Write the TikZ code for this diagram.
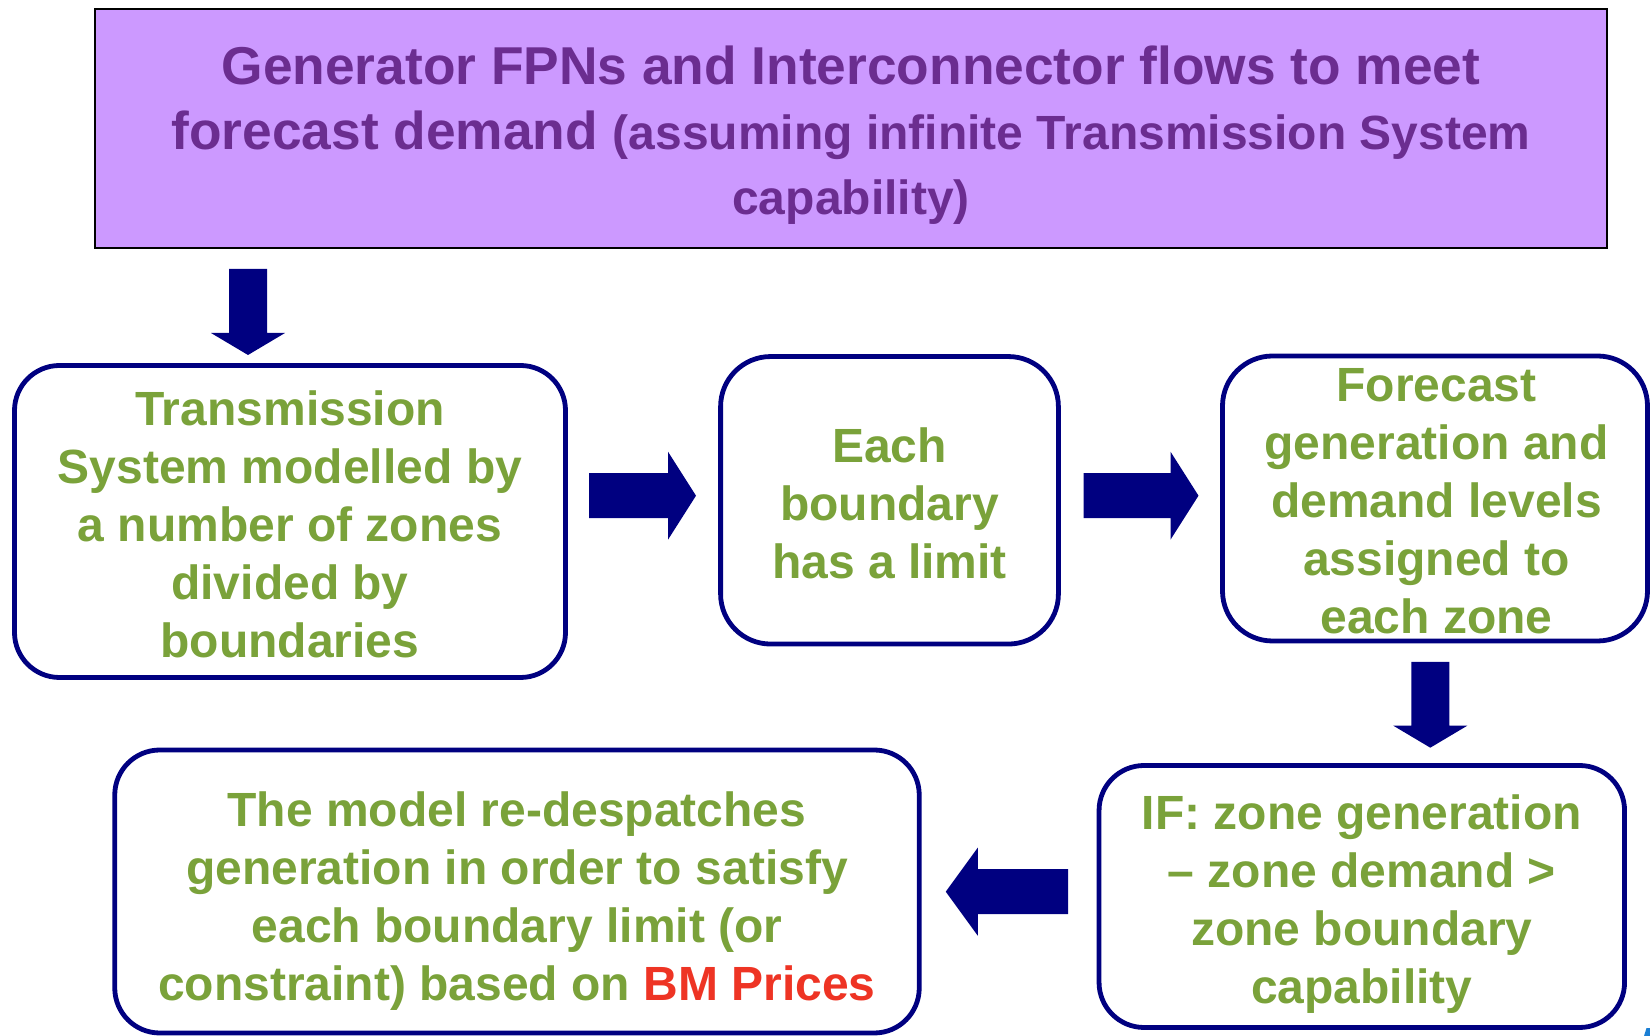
\documentclass[tikz,border=0pt]{standalone}
\usepackage{fontspec}
\setmainfont{Liberation Sans}
\usetikzlibrary{calc}

\definecolor{navyc}{HTML}{000080}
\definecolor{leaf}{HTML}{7AA23A}
\definecolor{lilac}{HTML}{CC99FF}
\definecolor{plum}{HTML}{6B2D90}
\definecolor{bmred}{HTML}{EE3424}
\definecolor{fragblue}{HTML}{1B7FD4}

% block arrows drawn between two named coordinates (start, tip)
\newcommand\blockright[2]{\fill[arrowfill] let \p1=(#1), \p2=(#2) in
  (\x1,\y1+11.25pt) -- (\x2-14pt,\y1+11.25pt) -- (\x2-14pt,\y1+22pt) -- (\x2,\y1)
  -- (\x2-14pt,\y1-22pt) -- (\x2-14pt,\y1-11.25pt) -- (\x1,\y1-11.25pt) -- cycle;}
\newcommand\blockleft[2]{\fill[arrowfill] let \p1=(#1), \p2=(#2) in
  (\x1,\y1+11.25pt) -- (\x2+16pt,\y1+11.25pt) -- (\x2+16pt,\y1+22pt) -- (\x2,\y1)
  -- (\x2+16pt,\y1-22pt) -- (\x2+16pt,\y1-11.25pt) -- (\x1,\y1-11.25pt) -- cycle;}
\newcommand\blockdown[2]{\fill[arrowfill] let \p1=(#1), \p2=(#2) in
  (\x1-9.5pt,\y1) -- (\x1-9.5pt,\y2+11pt) -- (\x1-18.5pt,\y2+11pt) -- (\x1,\y2)
  -- (\x1+18.5pt,\y2+11pt) -- (\x1+9.5pt,\y2+11pt) -- (\x1+9.5pt,\y1) -- cycle;}

\begin{document}
\begin{tikzpicture}[x=0.5pt,y=-0.5pt,
  gbox/.style={draw=navyc, line width=2.4pt, fill=white, outer sep=0pt, inner sep=0pt},
  gtext/.style={text=leaf, font=\bfseries\fontsize{24}{29}\selectfont, align=center, inner sep=0pt},
  arrowfill/.style={fill=navyc}]
\useasboundingbox (0,0) rectangle (1650,1036);
\clip (0,0) rectangle (1650,1036);

% title box
\node[draw=black, line width=1pt, fill=lilac, outer sep=0pt, inner sep=0pt,
      minimum width=756pt, minimum height=119.75pt] (T) at (851,128.7) {};
\node[text=plum, font=\bfseries\fontsize{26.65}{32.5}\selectfont, align=center, inner sep=0pt]
  (Tt) at ($(T.center)+(0,6.5)$)
  {Generator FPNs and Interconnector flows to meet\\
   forecast demand {\fontsize{24}{32.5}\selectfont (assuming infinite Transmission System}\\
   {\fontsize{24}{32.5}\selectfont capability)}};

% process boxes
\node[gbox, rounded corners=22.5pt, minimum width=275.5pt, minimum height=156pt] (A) at (290,521.5) {};
\node[gtext] (At) at ($(A.center)+(0,2.5)$) {Transmission\\System modelled by\\a number of zones\\divided by\\boundaries};

\node[gbox, rounded corners=25pt, minimum width=168.9pt, minimum height=143.75pt] (B) at (889.5,500.3) {};
\node[gtext] (Bt) at ($(B.center)+(0,3.5)$) {Each\\boundary\\has a limit};

\node[gbox, rounded corners=25pt, minimum width=212.5pt, minimum height=142.5pt] (C) at (1435,498.5) {};
\node[gtext] (Ct) at ($(C.center)+(1.5,2.5)$) {Forecast\\generation and\\demand levels\\assigned to\\each zone};

\node[gbox, rounded corners=22.5pt, minimum width=262.75pt, minimum height=131pt] (D) at (1361.8,896.5) {};
\node[gtext] (Dt) at ($(D.center)+(0,7.5)$) {IF: zone generation\\– zone demand >\\zone boundary\\capability};

\node[gbox, rounded corners=22.5pt, minimum width=402.25pt, minimum height=141.5pt] (E) at (517,891.5) {};
\node[gtext] (Et) at ($(E.center)+(0,9.5)$) {The model re-despatches\\generation in order to satisfy\\each boundary limit (or\\constraint) based on {\color{bmred}BM Prices}};

% arrow end points
\coordinate (a1s) at ($(T.south -| A.north)+(-42,20.5)$);
\coordinate (a1e) at ($(A.north)+(-42,-10.5)$);
\coordinate (a2s) at ($(A.east |- B.center)+(23.5,-4.6)$);
\coordinate (a2e) at ($(B.west)+(-24.6,-4.6)$);
\coordinate (a3s) at ($(B.east)+(25.3,-4.6)$);
\coordinate (a3e) at ($(C.west |- B.center)+(-24,-4.6)$);
\coordinate (a4s) at ($(C.south)+(-4.7,21)$);
\coordinate (a4e) at ($(D.north -| C.south)+(-4.7,-17.8)$);
\coordinate (a5s) at ($(D.west)+(-31,-4.8)$);
\coordinate (a5e) at ($(E.east |- D.west)+(26.5,-4.8)$);

\blockdown{a1s}{a1e}
\blockright{a2s}{a2e}
\blockright{a3s}{a3e}
\blockdown{a4s}{a4e}
\blockleft{a5s}{a5e}

% corner mark
\fill[fragblue] (1644,1036) -- (1646.5,1028) -- (1650,1028) -- (1650,1036) -- cycle;
\end{tikzpicture}
\end{document}
